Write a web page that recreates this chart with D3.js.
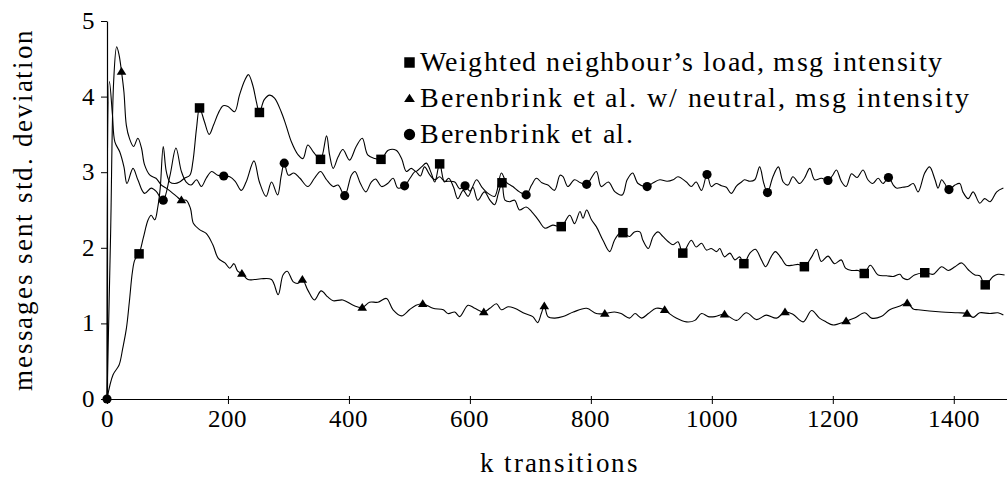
<html><head><meta charset="utf-8"><script src="https://cdn.jsdelivr.net/npm/d3@7"></script>
<style>
  @font-face {
    font-family: "ChartSerif";
    src: local("Liberation Serif"), local("LiberationSerif"), local("LiberationSerif-Regular"),
         local("DejaVu Serif"), local("DejaVuSerif");
  }
</style>
</head>
<body style="margin:0">
<svg id="chart" width="1007" height="477"></svg>
<script>
// ---- data: [k transitions, messages sent std. deviation] ----
const weightedLoad = [
  [0,0],[10,0.32],[20,0.45],[26,0.67],[32,0.93],[37,1.29],[42,1.68],[46,1.84],[53,1.92],[60,2.13],
  [68,2.37],[73,2.43],[79,2.37],[84,2.54],[88,2.79],[93,3.34],[98,3.01],[104,2.87],[112,2.85],[120,2.87],
  [128,2.92],[137,2.96],[142,3.14],[148,3.58],[153,3.85],[161,3.67],[169,3.50],[176,3.62],[184,3.78],[192,3.88],
  [200,3.87],[211,3.80],[219,4.02],[228,4.22],[234,4.29],[241,4.15],[247,3.93],[252,3.79],[260,3.96],[269,4.02],
  [277,3.98],[288,3.80],[296,3.62],[305,3.40],[316,3.23],[324,3.18],[332,3.36],[341,3.27],[353,3.17],[363,3.48],
  [368,3.23],[374,3.05],[382,3.20],[390,3.30],[401,3.16],[412,3.34],[422,3.45],[431,3.23],[443,3.18],[453,3.17],
  [465,3.29],[478,3.29],[487,3.18],[495,3.01],[503,3.05],[511,3.01],[520,3.07],[528,3.12],[536,2.99],[542,2.87],
  [550,3.11],[558,2.87],[565,2.92],[573,2.80],[580,2.65],[589,2.76],[597,2.68],[605,2.80],[613,2.63],[624,2.74],
  [633,2.63],[641,2.57],[647,2.72],[653,2.86],[658,2.63],[666,2.61],[674,2.63],[682,2.50],[693,2.54],[702,2.48],
  [713,2.37],[724,2.26],[737,2.30],[751,2.28],[765,2.43],[773,2.32],[782,2.48],[787,2.39],[793,2.50],[801,2.37],
  [809,2.28],[820,2.10],[831,1.95],[839,2.10],[847,2.19],[853,2.20],[864,2.15],[872,2.21],[881,2.21],[886,2.10],
  [895,1.99],[903,2.15],[911,2.21],[919,2.15],[928,2.08],[936,2.04],[944,2.08],[952,1.93],[966,2.10],[974,2.01],
  [983,2.06],[991,1.97],[999,1.99],[1008,1.95],[1013,1.99],[1021,1.88],[1030,1.93],[1038,1.84],[1046,1.88],[1053,1.79],
  [1063,1.93],[1072,1.98],[1082,1.84],[1089,1.75],[1098,1.88],[1105,1.95],[1115,1.86],[1123,1.77],[1134,1.77],[1143,1.78],
  [1153,1.75],[1165,1.88],[1173,1.98],[1181,1.82],[1192,1.89],[1203,1.79],[1214,1.84],[1221,1.73],[1231,1.70],[1242,1.70],
  [1252,1.66],[1262,1.77],[1275,1.64],[1289,1.63],[1300,1.62],[1311,1.65],[1316,1.60],[1324,1.58],[1335,1.64],[1352,1.67],
  [1366,1.65],[1380,1.75],[1391,1.70],[1402,1.75],[1413,1.80],[1424,1.71],[1435,1.64],[1443,1.63],[1452,1.51],[1465,1.62],
  [1473,1.65],[1484,1.64]
];

const neutralIntensity = [
  [0,0],[6,2.2],[11,4.2],[16,4.66],[20,4.55],[24,4.33],[28,4.06],[32,3.62],[37,3.45],[44,3.34],
  [51,3.45],[57,3.32],[62,3.10],[71,2.96],[81,2.92],[90,2.83],[98,2.79],[106,2.74],[115,2.68],[123,2.63],
  [131,2.63],[138,2.52],[143,2.32],[153,2.24],[164,2.19],[175,2.04],[184,1.86],[195,1.80],[203,1.73],[210,1.79],
  [216,1.69],[223,1.66],[233,1.58],[244,1.58],[255,1.59],[272,1.58],[283,1.38],[291,1.64],[298,1.69],[308,1.55],
  [316,1.53],[323,1.58],[332,1.44],[343,1.31],[354,1.43],[365,1.35],[374,1.30],[390,1.31],[407,1.24],[422,1.21],
  [434,1.28],[448,1.28],[462,1.33],[473,1.18],[487,1.10],[500,1.18],[511,1.24],[522,1.26],[539,1.20],[556,1.18],
  [564,1.13],[575,1.15],[583,1.09],[597,1.24],[608,1.20],[623,1.15],[633,1.20],[644,1.26],[652,1.18],[663,1.22],
  [674,1.20],[691,1.13],[704,1.09],[712,1.01],[718,1.13],[723,1.23],[729,1.09],[740,1.07],[754,1.09],[771,1.15],
  [793,1.20],[809,1.13],[823,1.13],[839,1.15],[850,1.13],[864,1.07],[873,1.13],[884,1.07],[895,1.13],[908,1.20],
  [922,1.18],[930,1.13],[941,1.07],[958,1.02],[972,1.04],[983,1.13],[994,1.09],[1005,1.09],[1021,1.12],[1041,1.04],
  [1057,1.14],[1074,1.05],[1090,1.11],[1107,1.07],[1121,1.15],[1134,1.12],[1151,1.02],[1165,1.17],[1178,1.07],[1189,1.02],
  [1200,0.98],[1222,1.03],[1236,1.07],[1253,1.14],[1264,1.07],[1280,1.09],[1294,1.18],[1311,1.23],[1323,1.27],[1333,1.19],
  [1341,1.18],[1380,1.15],[1407,1.14],[1422,1.13],[1432,1.08],[1443,1.14],[1460,1.13],[1473,1.14],[1482,1.11]
];

const berenbrink = [
  [0,0],[4,4.20],[9,3.76],[13,3.40],[21,3.27],[28,3.07],[33,2.85],[43,3.05],[51,2.90],[62,2.72],
  [73,2.79],[82,2.74],[87,2.68],[93,2.63],[104,2.95],[114,3.32],[123,3.01],[131,2.87],[139,2.83],[148,2.90],
  [156,2.81],[164,2.92],[173,3.01],[183,2.96],[193,2.95],[203,2.94],[212,2.88],[222,2.76],[230,2.87],[243,3.15],
  [252,2.87],[263,2.68],[272,2.87],[282,2.70],[288,2.95],[293,3.12],[300,2.96],[309,2.99],[319,2.92],[332,2.81],
  [343,2.92],[353,3.01],[363,2.90],[374,2.81],[382,2.83],[393,2.69],[404,2.96],[410,3.01],[419,2.85],[428,2.74],
  [437,2.87],[444,2.91],[454,2.81],[464,2.85],[473,2.92],[481,2.79],[492,2.82],[501,2.92],[510,3.01],[518,2.95],
  [525,3.07],[534,2.96],[542,2.90],[550,2.94],[558,2.88],[564,2.88],[575,2.87],[583,2.78],[592,2.82],[600,2.75],
  [611,2.90],[620,2.80],[630,2.72],[641,2.68],[652,2.99],[660,2.87],[671,2.81],[682,2.74],[693,2.70],[702,2.83],
  [710,2.92],[719,2.86],[729,2.83],[740,2.76],[749,2.96],[754,2.94],[762,2.81],[773,2.90],[783,2.86],[793,2.84],
  [809,3.01],[817,2.81],[829,2.87],[840,2.74],[852,2.70],[860,2.90],[869,2.99],[878,2.85],[893,2.81],[903,2.86],
  [914,2.90],[926,2.88],[936,2.90],[944,2.94],[958,2.87],[966,2.81],[974,2.87],[983,2.76],[992,2.97],[999,2.81],
  [1007,2.85],[1016,2.82],[1024,2.80],[1032,2.72],[1041,2.82],[1049,2.87],[1054,2.90],[1063,2.88],[1071,2.90],[1079,3.07],
  [1086,2.85],[1092,2.73],[1101,2.94],[1110,3.07],[1118,2.87],[1126,2.83],[1134,2.94],[1145,2.85],[1153,2.92],[1162,3.05],
  [1170,2.90],[1181,2.92],[1192,2.89],[1199,2.95],[1206,3.03],[1214,2.88],[1222,2.81],[1231,2.98],[1240,2.93],[1250,3.03],
  [1258,2.90],[1266,2.85],[1275,2.92],[1283,2.85],[1292,2.93],[1300,2.83],[1305,2.79],[1315,2.80],[1324,2.81],[1333,2.85],
  [1341,2.74],[1352,2.99],[1360,3.07],[1369,2.90],[1374,2.79],[1380,2.90],[1385,2.85],[1392,2.77],[1402,2.83],[1410,2.85],
  [1415,2.74],[1424,2.65],[1432,2.74],[1443,2.59],[1451,2.65],[1460,2.61],[1471,2.74],[1482,2.79]
];

// k-transition positions that carry a marker on each curve
const squareAt   = [53,153,252,353,453,550,653,751,853,952,1053,1153,1252,1352,1452];
const triangleAt = [24,123,223,323,422,522,623,723,823,922,1021,1121,1222,1323,1422];
const circleAt   = [0,93,193,293,393,492,592,693,793,893,992,1092,1192,1292,1392];

const xTicks = [0,200,400,600,800,1000,1200,1400];
const yTicks = [0,1,2,3,4,5];

const legendLabels = [
  "Weighted neighbour\u2019s load, msg intensity",
  "Berenbrink et al. w/ neutral, msg intensity",
  "Berenbrink et al."
];

const FONT = '"ChartSerif"';

// ---- layout ----
const svg = d3.select("#chart").attr("font-family", "ChartSerif");
const x = d3.scaleLinear().domain([0, 1488]).range([107, 1007]);
const y = d3.scaleLinear().domain([0, 5]).range([399, 21]);

// one text element with its own font, laid out immediately
function label(parent, str, size) {
  const t = parent.append("text").attr("font-size", size)
    .style("font-family", FONT).text(str);
  t.node().getComputedTextLength();
  return t;
}

// axis lines and ticks
const xAxis = svg.append("g")
  .attr("transform", `translate(0,${y(0)})`)
  .call(d3.axisBottom(x).tickValues(xTicks).tickFormat("")
        .tickSize(5).tickSizeOuter(0));
xAxis.select(".domain").attr("stroke", "#000").attr("stroke-width", 1.2);
xAxis.selectAll(".tick line").attr("y1", -3).attr("stroke", "#000");

const yAxis = svg.append("g")
  .attr("transform", `translate(${x(0)},0)`)
  .call(d3.axisLeft(y).tickValues(yTicks).tickFormat("")
        .tickSize(6).tickSizeOuter(0));
yAxis.select(".domain").attr("stroke", "#000").attr("stroke-width", 1.2);
yAxis.selectAll(".tick line").attr("stroke", "#000");

// tick labels
xTicks.forEach(v => {
  label(svg, String(v), 25).attr("x", x(v)).attr("y", 427).attr("text-anchor", "middle");
});
yTicks.forEach(v => {
  label(svg, String(v), 25).attr("x", 95).attr("y", y(v) + 8).attr("text-anchor", "end");
});

// axis titles
label(svg, "messages sent std. deviation", 27)
  .attr("transform", "translate(32,210) rotate(-90)")
  .attr("text-anchor", "middle")
  .attr("textLength", 361);

label(svg, "k transitions", 27)
  .attr("x", 559).attr("y", 472)
  .attr("text-anchor", "middle")
  .attr("textLength", 158);

// curves
const line = d3.line()
  .x(d => x(d[0])).y(d => y(d[1]))
  .curve(d3.curveCatmullRom.alpha(0.5));

const series = [
  { data: weightedLoad,     marks: squareAt,   shape: "square" },
  { data: neutralIntensity, marks: triangleAt, shape: "triangle" },
  { data: berenbrink,       marks: circleAt,   shape: "circle" }
];

const plot = svg.append("g");
series.forEach(s => {
  plot.append("path")
    .datum(s.data)
    .attr("fill", "none")
    .attr("stroke", "#000")
    .attr("stroke-width", 1.1)
    .attr("d", line);
});

const symbolPath = {
  square:   d3.symbol().type(d3.symbolSquare).size(90)(),
  triangle: "M0,-4.6L4.8,3.2L-4.8,3.2Z",
  circle:   d3.symbol().type(d3.symbolCircle).size(66)()
};

series.forEach(s => {
  const pts = s.marks.map(k => s.data.find(d => d[0] === k));
  plot.selectAll(null).data(pts).enter().append("path")
    .attr("transform", d => `translate(${x(d[0])},${y(d[1])})`)
    .attr("d", symbolPath[s.shape])
    .attr("fill", "#000");
});

// legend
const rowY = [62.5, 98.5, 134.5];
const rowWidth = [522, 549, 213];
series.forEach((s, i) => {
  svg.append("path")
    .attr("transform", `translate(409.5,${rowY[i]})`)
    .attr("d", s.shape === "square" ? d3.symbol().type(d3.symbolSquare).size(110)()
             : s.shape === "circle" ? d3.symbol().type(d3.symbolCircle).size(100)()
             : "M0,-4.8L5.4,3.6L-5.4,3.6Z")
    .attr("fill", "#000");
  label(svg, legendLabels[i], 28)
    .attr("x", 420).attr("y", rowY[i] + 8)
    .attr("textLength", rowWidth[i]);
});
</script></body></html>
